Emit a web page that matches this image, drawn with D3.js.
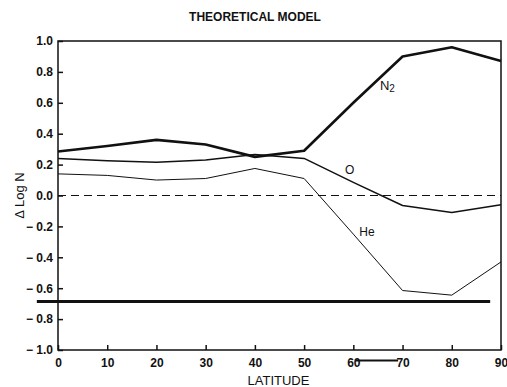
<!DOCTYPE html>
<html>
<head>
<meta charset="utf-8">
<script src="https://cdn.jsdelivr.net/npm/d3@7"></script>
<style>
  body { margin: 0; background: #fff; }
  text { font-family: "Liberation Sans", Arial, sans-serif; fill: #111; }
</style>
</head>
<body>
<div id="chart"></div>
<script>
const latitude = [0, 10, 20, 30, 40, 50, 60, 70, 80, 90];
const n2 = [0.285, 0.32, 0.36, 0.33, 0.25, 0.29, 0.60, 0.90, 0.96, 0.87];
const oxygen = [0.24, 0.225, 0.215, 0.23, 0.265, 0.24, 0.085, -0.065, -0.11, -0.06];
const helium = [0.14, 0.13, 0.10, 0.11, 0.175, 0.11, -0.25, -0.615, -0.645, -0.43];
const xTicks = [0, 10, 20, 30, 40, 50, 60, 70, 80, 90];
const yTicks = [1.0, 0.8, 0.6, 0.4, 0.2, 0.0, -0.2, -0.4, -0.6, -0.8, -1.0];
const refLevel = -0.686, refStart = -4.3, refEnd = 87.8;
const strayLevel = -1.068, strayStart = 60.4, strayEnd = 69.1;

const margin = {top: 41, right: 6, bottom: 37, left: 58};
const W = 507, H = 387;
const width = W - margin.left - margin.right, height = H - margin.top - margin.bottom;

const root = d3.select("#chart").append("svg").attr("width", W).attr("height", H);
const svg = root.append("g").attr("transform", `translate(${margin.left},${margin.top})`);

const x = d3.scaleLinear().domain([0, 90]).range([0, width]);
const y = d3.scaleLinear().domain([-1, 1]).range([height, 0]);
const fmt = v => (v < 0 ? "\u2212 " : "") + Math.abs(v).toFixed(1);

// frame
svg.append("rect").attr("width", width).attr("height", height)
  .attr("fill", "none").attr("stroke", "#111").attr("stroke-width", 1.5);

const yAxis = svg.append("g").call(d3.axisLeft(y).tickValues(yTicks).tickFormat(fmt).tickSize(-5).tickPadding(5));
const xAxis = svg.append("g").attr("transform", `translate(0,${height})`)
  .call(d3.axisBottom(x).tickValues(xTicks).tickSize(-5).tickPadding(8));
[yAxis, xAxis].forEach(a => {
  a.select(".domain").remove();
  a.selectAll(".tick line").attr("stroke", "#111").attr("stroke-width", 1.5);
  a.selectAll(".tick text").attr("font-size", 12).attr("font-weight", "bold").style("font-family", "Liberation Sans, Arial, sans-serif");
});

// zero dashed line
svg.append("line").attr("x1", x(0)).attr("x2", x(90)).attr("y1", y(0)).attr("y2", y(0))
  .attr("stroke", "#111").attr("stroke-width", 1.2).attr("stroke-dasharray", "8,5");

// thick reference line
svg.append("line").attr("x1", x(refStart)).attr("x2", x(refEnd)).attr("y1", y(refLevel)).attr("y2", y(refLevel))
  .attr("stroke", "#111").attr("stroke-width", 3);
svg.append("line").attr("x1", x(strayStart)).attr("x2", x(strayEnd)).attr("y1", y(strayLevel)).attr("y2", y(strayLevel))
  .attr("stroke", "#111").attr("stroke-width", 2);

const line = d3.line().x((d, i) => x(latitude[i])).y(d => y(d));
[[n2, 2.6], [oxygen, 1.5], [helium, 1]].forEach(([s, w]) => {
  svg.append("path").datum(s).attr("d", line).attr("fill", "none")
    .attr("stroke", "#111").attr("stroke-width", w).attr("stroke-linejoin", "round");
});

// series labels
const n2Label = svg.append("text").attr("x", x(65.4)).attr("y", y(0.68)).attr("font-size", 13);
n2Label.append("tspan").text("N");
n2Label.append("tspan").attr("font-size", 10).attr("dy", 2).text("2");
svg.append("text").attr("x", x(58.3)).attr("y", y(0.142)).attr("font-size", 12).text("O");
svg.append("text").attr("x", x(61.2)).attr("y", y(-0.259)).attr("font-size", 12).text("He");

// titles
root.append("text").attr("x", 255).attr("y", 21).attr("text-anchor", "middle")
  .attr("font-size", 12).attr("font-weight", "bold").text("THEORETICAL MODEL");
root.append("text").attr("x", 278.5).attr("y", 385).attr("text-anchor", "middle")
  .attr("font-size", 13).text("LATITUDE");
root.append("text").attr("transform", `translate(24,${margin.top + y(0)}) rotate(-90)`)
  .attr("text-anchor", "middle").attr("font-size", 13).text("\u0394 Log N");
</script>
</body>
</html>
